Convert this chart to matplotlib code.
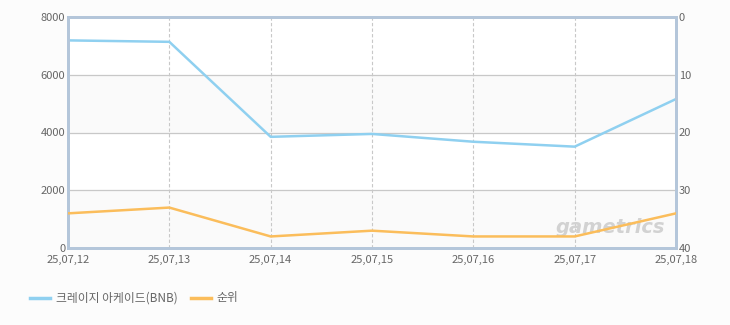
import matplotlib.pyplot as plt
import numpy as np

plt.rcParams['font.family'] = ['Noto Sans CJK KR', 'DejaVu Sans']

dates = ['25,07,12', '25,07,13', '25,07,14', '25,07,15', '25,07,16', '25,07,17', '25,07,18']
users = [7190, 7140, 3850, 3950, 3680, 3510, 5160]
rank = [34, 33, 38, 37, 38, 38, 34]

BLUE = '#8fd0f0'
ORANGE = '#fbbd5b'
FRAME = '#b4c6da'
TXT = '#666666'

fig = plt.figure(figsize=(7.3, 3.25), dpi=100)
fig.patch.set_facecolor('#fcfcfc')
ax = fig.add_axes([68 / 730, 77 / 325, 608 / 730, 231 / 325])
ax.set_facecolor('white')

x = np.arange(len(dates))

# 가로 밴드 (0-2000, 4000-6000 연회색)
for lo in (0, 4000):
    ax.axhspan(lo, lo + 2000, color='#fafafa', zorder=0)

ax.set_xlim(0, len(dates) - 1)
ax.set_ylim(0, 8000)
ax.set_yticks([0, 2000, 4000, 6000, 8000])
ax.set_xticks(x)
ax.set_xticklabels(dates)
ax.grid(axis='y', color='#c8c8c8', linewidth=0.9, zorder=1)
for xi in x[1:-1]:
    ax.axvline(xi, color='#c8c8c8', linestyle=(0, (3, 2)), linewidth=0.8, zorder=1)

# 워터마크
ax.text(0.982, 0.09, 'gametrics', transform=ax.transAxes, ha='right', va='center',
        fontsize=14, fontstyle='italic', fontweight='bold', color='#d2d2d2',
        family='DejaVu Sans', zorder=2)

ax.plot(x, users, color=BLUE, linewidth=1.8, zorder=3)

ax2 = ax.twinx()
ax2.set_ylim(40, 0)
ax2.set_yticks([0, 10, 20, 30, 40])
ax2.plot(x, rank, color=ORANGE, linewidth=1.8, zorder=3)

for a in (ax, ax2):
    for s in a.spines.values():
        s.set_color(FRAME)
        s.set_linewidth(2)
    a.tick_params(length=0, labelsize=8, colors=TXT, pad=2)
ax.tick_params(axis='x', pad=5)

# 범례
fig.add_artist(plt.Line2D([30 / 730, 50 / 730], [27 / 325, 27 / 325], color=BLUE, linewidth=2.5))
fig.text(56 / 730, 27 / 325, '크레이지 아케이드(BNB)', fontsize=8.5, color=TXT, va='center')
fig.add_artist(plt.Line2D([191 / 730, 211 / 730], [27 / 325, 27 / 325], color=ORANGE, linewidth=2.5))
fig.text(216 / 730, 27 / 325, '순위', fontsize=8.5, color=TXT, va='center')

fig.savefig('out.png', dpi=100, facecolor=fig.get_facecolor())
